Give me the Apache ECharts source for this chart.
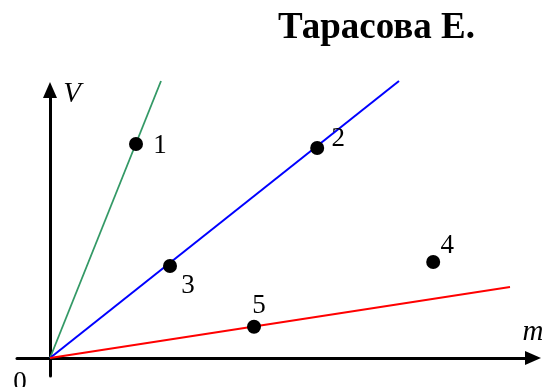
<!DOCTYPE html>
<html>
<head>
<meta charset="utf-8">
<script src="https://cdn.jsdelivr.net/npm/echarts@6/dist/echarts.min.js"></script>
<style>
  html, body { margin: 0; padding: 0; background: #fff; }
  #main { width: 542px; height: 387px; }
</style>
</head>
<body>
<div id="main"></div>
<script>
// points (m, V) and their labels
var pointNames = ['1', '2', '3', '4', '5'];
var pointM = [2.15, 6.68, 3.0, 9.58, 5.1];
var pointV = [5.35, 5.25, 2.3, 2.4, 0.78];

// straight lines through the origin, end point of each
var lineNames = ['green', 'blue', 'red'];
var lineColors = ['#339966', '#0000ff', '#ff0000'];
var lineEndM = [2.775, 8.725, 11.5];
var lineEndV = [6.925, 6.925, 1.775];

// label offsets (px) from the dot
var labelOffsets = [[24, 2], [21, -9], [18, 20], [14, -16], [5, -21]];

var chart = echarts.init(document.getElementById('main'));

var series = [];
for (var i = 0; i < lineNames.length; i++) {
  series.push({
    name: lineNames[i],
    type: 'line',
    data: [[0, 0], [lineEndM[i], lineEndV[i]]],
    symbol: 'none',
    clip: false,
    silent: true,
    lineStyle: { color: lineColors[i], width: i == 0 ? 1.8 : 2 },
    z: 3
  });
}

var pts = [];
for (var j = 0; j < pointNames.length; j++) {
  pts.push({
    name: pointNames[j],
    value: [pointM[j], pointV[j]],
    label: { offset: labelOffsets[j] }
  });
}
series.push({
  type: 'scatter',
  data: pts,
  symbolSize: 14,
  itemStyle: { color: '#000', opacity: 1 },
  label: {
    show: true,
    position: 'inside',
    formatter: '{b}',
    color: '#000',
    fontSize: 27,
    fontFamily: 'Liberation Serif, Times New Roman, serif'
  },
  z: 5
});

var option = {
  animation: false,
  backgroundColor: '#fff',
  title: {
    text: 'Тарасова Е.',
    left: 273,
    top: 5,
    textStyle: {
      fontFamily: 'Liberation Serif, Times New Roman, serif',
      fontWeight: 'bold',
      fontSize: 37,
      color: '#000'
    }
  },
  grid: { left: 17, right: 9, top: 90, bottom: 11 },
  xAxis: {
    type: 'value',
    min: -0.825,
    max: 12.075,
    axisLine: {
      onZero: true,
      lineStyle: { color: '#000', width: 3 },
      symbol: ['none', 'triangle'],
      symbolSize: [14, 16]
    },
    axisTick: { show: false },
    axisLabel: { show: false },
    splitLine: { show: false }
  },
  yAxis: {
    type: 'value',
    min: -0.45,
    max: 6.7,
    axisLine: {
      onZero: true,
      lineStyle: { color: '#000', width: 3 },
      symbol: ['none', 'triangle'],
      symbolSize: [14, 16]
    },
    axisTick: { show: false },
    axisLabel: { show: false },
    splitLine: { show: false }
  },
  graphic: [
    {
      type: 'text',
      style: { x: 72, y: 94, text: 'V', align: 'center', verticalAlign: 'middle',
        font: 'italic 29px "Liberation Serif", serif', fill: '#000' }
    },
    {
      type: 'text',
      style: { x: 533, y: 332, text: 'm', align: 'center', verticalAlign: 'middle',
        font: 'italic 29px "Liberation Serif", serif', fill: '#000' }
    },
    {
      type: 'text',
      style: { x: 20, y: 369, text: '0', align: 'center', verticalAlign: 'top',
        font: '27px "Liberation Serif", serif', fill: '#000' }
    }
  ],
  series: series
};

chart.setOption(option);
</script>
</body>
</html>
